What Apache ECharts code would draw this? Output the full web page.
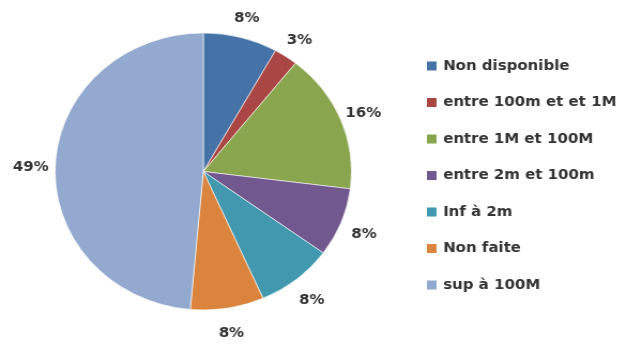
<!DOCTYPE html>
<html><head><meta charset="utf-8">
<script src="https://cdn.jsdelivr.net/npm/echarts@6/dist/echarts.min.js"></script>
<style>html,body{margin:0;padding:0;background:#fff;overflow:hidden}
#c{width:590px;height:345px;transform:scaleX(1.07);transform-origin:0 0}</style>
</head><body><div id="c"></div>
<script>
const categories = ['Non disponible','entre 100m et et 1M','entre 1M et 100M','entre 2m et 100m','Inf à 2m','Non faite','sup à 100M'];
const values = [8.1, 2.6, 16.3, 8.0, 8.4, 8.0, 48.6];
const colors = ['#4572A7','#AA4643','#89A54E','#71588F','#4198AF','#DB843D','#93A9CF'];

const chart = echarts.init(document.getElementById('c'), null, {renderer:'canvas'});
chart.setOption({
  animation:false,
  color: colors,
  legend:{
    orient:'vertical', left:394, top:54,
    itemWidth:9.3, itemHeight:9, itemGap:22.5,
    itemStyle:{borderWidth:0},
    textStyle:{fontFamily:'DejaVu Sans', fontSize:14, fontWeight:'bold', color:'#333', padding:[0,0,0,1]},
    data: categories.map(n=>({name:n, icon:'path://M0,0L10,0L10,10L0,10Z'}))
  },
  series:[{
    type:'pie',
    center:[190,171.5], radius:138.5,
    startAngle:90, clockwise:true,
    itemStyle:{borderColor:'#fff', borderWidth:0.6},
    label:{show:true, position:'outside', fontFamily:'DejaVu Sans', fontSize:14, fontWeight:'bold', color:'#333',
      overflow:'none', distanceToLabelLine:0, edgeDistance:0,
      formatter:p=>Math.round(p.percent)+'%'},
    labelLine:{show:false, length:23, length2:0},
    labelLayout:{align:'center', verticalAlign:'middle', dy:3},
    data: categories.map((n,i)=>({name:n, value:values[i]}))
  }]
});
</script></body></html>
